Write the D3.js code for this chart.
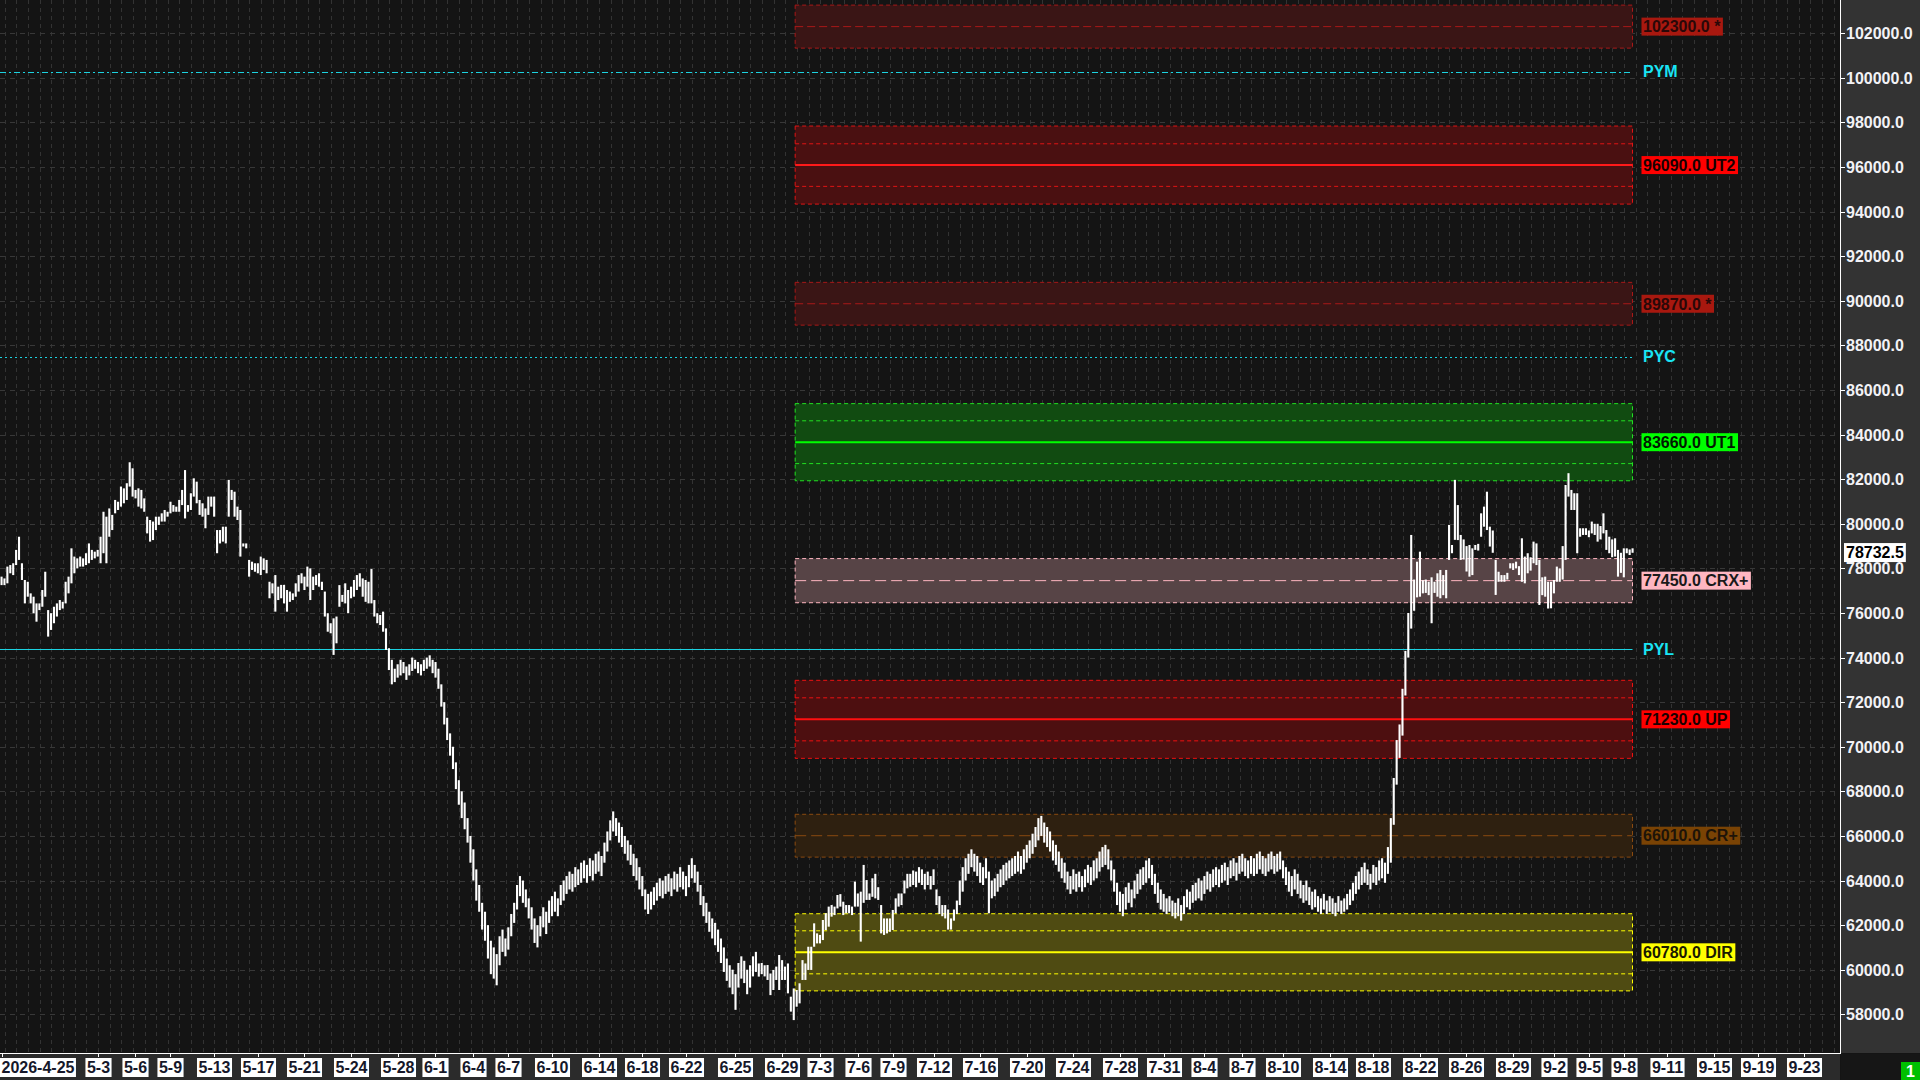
<!DOCTYPE html>
<html><head><meta charset="utf-8">
<script src="https://cdn.jsdelivr.net/npm/d3@7"></script>
<style>html,body{margin:0;padding:0;background:#141414;overflow:hidden}</style>
</head><body>
<svg id="chart" width="1920" height="1080"></svg>
<script>
// ---------------- DATA ----------------
const barHigh = [
77630,77550,78080,78150,78230,78830,79420,78230,77480,77400,
76880,76730,76430,76430,77030,77850,76130,75990,76280,76430,
76580,76500,77400,77630,78900,78530,78450,78530,78450,78680,
79120,78830,78750,78830,79420,80540,80320,80690,80400,81070,
80990,81670,81590,81820,82760,82490,81520,81590,81520,81140,
80320,80170,80100,80320,80320,80470,80620,80540,80990,80840,
80770,81070,81520,82410,80840,81370,82040,81890,81070,80920,
80690,81220,81220,81220,79720,79720,79870,79870,81970,81520,
81440,80770,80620,79120,79120,78380,78300,78230,78230,78530,
78450,78380,77400,77330,77700,77180,77260,77260,77030,76960,
76880,77330,77700,77780,77630,78080,78000,77630,77700,77780,
77400,76960,75990,75540,75760,75840,77250,76810,77330,77030,
77180,77480,77700,77780,77550,77480,77400,77970,76580,75990,
75910,76060,75310,74420,73900,73500,73700,73900,73800,73600,
73700,74000,73900,73800,73700,73900,74000,74100,73900,73800,
73500,72800,72000,71300,70600,70000,69300,68500,68000,67500,
66800,66000,65400,64500,63800,63000,62600,62000,61300,61000,
60700,61500,61800,61400,61900,62500,63000,63800,64200,64000,
63600,63200,62800,62300,62000,62400,62800,62600,63100,63300,
63500,63200,63800,64000,64200,64400,64300,64600,64500,64800,
64900,64700,65000,64900,65200,65300,65100,65700,66200,66700,
67100,66800,66600,66400,66000,65800,65600,65200,65000,64600,
64200,63600,63400,63500,63700,63900,64100,64000,64200,64300,
64100,64400,64300,64600,64400,64200,64700,65000,64700,64400,
63800,63300,63000,62600,62300,62100,61800,61400,61000,60500,
60200,60000,59800,60300,60600,60400,60000,60200,60600,60800,
60280,60300,60200,60210,59830,59990,60140,60660,60430,60140,
60280,58790,59160,59090,59390,60430,60280,61030,61030,62080,
61630,61560,62230,62530,62830,62900,62830,63350,63390,63050,
62900,62900,62830,63950,63420,63500,64700,64020,63420,64100,
64300,63700,62900,62300,62300,62300,62680,63200,63420,63420,
64000,64300,64300,64450,64400,64600,64500,64300,64400,64200,
64500,63600,63300,62900,62900,62700,62300,62700,63100,64000,
64600,65000,65200,65400,65200,65100,64800,64600,65000,64400,
64000,64100,64300,64500,64700,64800,64900,65000,65100,65300,
65100,65400,65600,65800,66100,66400,66800,66900,66600,66400,
66200,65800,65600,65300,65000,64800,64400,64200,64500,64300,
64400,64200,64500,64700,64600,64900,65000,65300,65500,65600,
65400,64900,64500,63900,63500,63400,63700,63900,63600,64000,
64300,64500,64600,64900,65000,64700,64300,63900,63600,63400,
63200,63300,63100,63000,63200,62900,63300,63600,63500,63800,
63900,64100,64000,64200,64400,64300,64500,64600,64500,64700,
64800,64600,64900,65000,64800,65100,65200,65000,64900,65100,
65000,65200,65300,65100,65000,65200,65300,65100,65200,65300,
64900,64600,64400,64200,64500,64300,64000,63800,64000,63700,
63500,63600,63300,63200,63400,63100,63300,63200,63000,63300,
63100,63200,63400,63600,63900,64200,64400,64600,64800,64500,
64300,64700,64600,64900,65000,
64800,65500,66800,68600,70300,71000,72600,74300,76000,79500,
77500,78300,78750,77470,77500,77400,77600,77400,77780,77930,
77700,77930,79950,79050,81970,80840,79500,79300,79000,79050,
78900,79050,79100,80470,80770,81440,79870,79700,78380,77850,
77700,77700,77800,78230,78230,78300,78100,79350,78530,78680,
78500,79200,79120,78380,77600,77630,77400,77400,77480,78080,
78000,79000,81740,82270,81520,81370,81370,79800,79800,79800,
79700,80100,80000,80000,79900,80470,79720,79420,79300,79350,
78830,78700,78900,78900,78850,78900
];
const barLow = [
77250,77250,77330,77780,77700,78150,78380,77480,76430,76730,
76430,75990,75610,76130,76280,76730,74940,75240,75540,75840,
76130,76200,76430,76880,77330,77780,78000,78080,78080,78150,
78230,78380,78450,78530,78230,78680,78230,79420,79720,80470,
80620,80770,80920,81070,81670,81220,81140,80770,80690,80540,
79570,79200,79270,79720,79950,80100,80100,80320,80470,80540,
80540,80540,80840,80240,80540,80620,81220,80920,80400,80320,
79800,80400,80770,80320,78680,79120,79200,79120,80320,81070,
80320,80170,78530,78980,78900,77630,77930,77850,77780,77700,
77930,77780,76660,76880,76060,76580,76660,76430,76060,76500,
76580,76730,76960,77330,77030,77180,76580,77030,77250,77180,
77030,75840,75160,75090,74120,74640,76280,76500,76430,75990,
76660,76730,77030,77180,76730,76500,76430,76430,75840,75540,
75460,75160,74340,73440,72800,72900,73100,73200,73300,73000,
73200,73400,73500,73300,73200,73400,73500,73600,73300,73100,
72600,71800,71000,70300,69600,69000,68100,67400,66800,66300,
65700,64800,64000,63100,62600,61800,61300,60500,59800,59600,
59300,60200,60800,60600,60900,61500,62100,62700,63300,63000,
62800,62300,61800,61200,61000,61500,61900,61600,62100,62400,
62600,62400,62900,63100,63400,63600,63500,63700,63800,63900,
64100,63900,64200,64000,64300,64400,64200,64800,65300,65800,
66200,66000,65700,65500,65200,64900,64700,64200,64000,63600,
63300,62700,62500,62700,62900,63100,63300,63200,63400,63500,
63300,63600,63500,63700,63600,63300,63700,64100,63900,63500,
62900,62400,62100,61700,61400,61100,60800,60300,59900,59500,
59200,58900,58200,59200,59600,59400,58900,59200,59700,59900,
59690,59800,59700,59540,58860,59090,59540,59090,59540,59540,
58940,58120,57740,58340,58490,59540,59540,59990,59990,61030,
61180,61180,61330,61780,61930,62380,62450,62750,62830,62450,
62530,62530,62450,62830,62830,61260,63000,63130,63130,63270,
63200,63130,61630,61560,61630,61700,61780,62530,62830,62900,
63420,63650,63720,63800,63700,63900,63800,63600,63800,63600,
63800,62900,62500,62400,62300,61800,61800,62200,62500,62900,
63500,64000,64300,64600,64400,64200,63900,63800,64100,62530,
63200,63300,63500,63700,63800,64000,64100,64200,64300,64400,
64300,64500,64800,65000,65200,65500,65800,66000,65700,65500,
65300,64900,64700,64400,64100,63900,63600,63400,63600,63500,
63700,63500,63700,63900,63800,64000,64100,64400,64600,64700,
64500,64000,63500,62900,62600,62400,62700,63000,62800,63200,
63400,63600,63800,63900,64100,63800,63400,63000,62700,62600,
62500,62600,62400,62300,62400,62200,62500,62800,62700,63000,
63100,63200,63100,63400,63600,63500,63700,63800,63700,63900,
64000,63800,64100,64200,64000,64300,64400,64200,64100,64300,
64200,64300,64500,64300,64200,64400,64500,64300,64400,64500,
64100,63800,63500,63300,63600,63400,63200,63000,63100,62900,
62700,62800,62600,62500,62700,62500,62600,62500,62400,62600,
62500,62600,62700,62900,63100,63400,63600,63800,63900,63800,
63600,63900,63800,64000,64100,
63900,64300,64800,66500,68300,69500,70500,72300,74000,75300,
76100,76700,76730,76880,76900,76800,75540,76900,76730,76660,
76800,76660,78380,78680,79280,79270,78380,78400,77860,77630,
77700,78830,78800,79420,79870,79720,78980,78700,76810,77400,
77400,77400,77500,78000,77930,78000,77700,77400,77330,77780,
77900,78230,78150,76360,76800,76730,76200,76210,76880,77400,
77400,77500,78380,81220,80620,80620,78680,79420,79500,79500,
79400,79570,79500,79200,79300,79570,78830,78680,78500,78530,
77630,77800,77600,78680,78600,78700
];
const tickLabels = ['2026-4-25','5-3','5-6','5-9','5-13','5-17','5-21','5-24','5-28','6-1','6-4','6-7','6-10','6-14','6-18','6-22','6-25','6-29','7-3','7-6','7-9','7-12','7-16','7-20','7-24','7-28','7-31','8-4','8-7','8-10','8-14','8-18','8-22','8-26','8-29','9-2','9-5','9-8','9-11','9-15','9-19','9-23'];
const tickIndex = [0,33,46,58,73,88,104,120,136,149,162,174,189,205,220,235,252,268,281,294,306,320,336,352,368,384,399,413,426,440,456,471,487,503,519,533,545,557,572,588,603,619];
const yTicks = [58000,60000,62000,64000,66000,68000,70000,72000,74000,76000,78000,80000,82000,84000,86000,88000,90000,92000,94000,96000,98000,100000,102000];
const zoneCenter = [102300,96090,89870,83660,77450,71230,66010,60780];
const zoneLabel = ['102300.0 *','96090.0 UT2','89870.0 *','83660.0 UT1','77450.0 CRX+','71230.0 UP','66010.0 CR+','60780.0 DIR'];
const zoneOuter = [965,1750,960,1730,990,1750,960,1730];
const zoneInner = [0,955,0,960,0,965,0,965];
const zoneStartIndex = 272.5;
const refLevels = [100280,87500,74380];
const refLabels = ['PYM','PYC','PYL'];
const lastPrice = 78732.5;
const lastPriceLabel = '78732.5';

// ---------------- STYLES ----------------
const zoneStyle = {
  '*':   {fill:'#3a1515', line:'#a81818', center:'dash', cColor:'#a81818', bg:'#a8180f', text:'#2a0808'},
  'UT2': {fill:'#4a1011', line:'#e01414', center:'solid', cColor:'#ff1a1a', bg:'#ff0000', text:'#1a0000'},
  'UT1': {fill:'#114b11', line:'#22e022', center:'solid', cColor:'#00ff00', bg:'#00ff00', text:'#001a00'},
  'CRX+':{fill:'#574446', line:'#ffb6c1', center:'longdash', cColor:'#ffb6c1', bg:'#ffb6c1', text:'#1a1a1a'},
  'UP':  {fill:'#4d0f10', line:'#ee1010', center:'solid', cColor:'#ff1010', bg:'#ff0000', text:'#1a0000'},
  'CR+': {fill:'#2e2010', line:'#8a4a10', center:'longdash', cColor:'#8a4a10', bg:'#7a4304', text:'#1e1408'},
  'DIR': {fill:'#4f4b12', line:'#ffff00', center:'solid', cColor:'#ffff00', bg:'#ffff00', text:'#1a1a00'}
};
const refStyle = [
  {color:'#1cd2e0', dash:'6,3,2,3'},
  {color:'#1cd2e0', dash:'2,3'},
  {color:'#1cd2e0', dash:null}
];
const FONT = "'Liberation Sans', Arial, sans-serif";

// ---------------- CHART ----------------
const plotR = 1840, plotB = 1053;
const svg = d3.select('#chart');
const x = d3.scaleLinear().domain([0, 631.24]).range([1.5, plotR]);
const y = d3.scaleLinear().domain([56264, 103494]).range([plotB, 0]);

svg.append('rect').attr('width',1920).attr('height',1080).attr('fill','#141414');
svg.append('rect').attr('x',plotR).attr('y',0).attr('width',1920-plotR).attr('height',plotB).attr('fill','#333333');
svg.append('rect').attr('x',0).attr('y',plotB).attr('width',plotR).attr('height',1080-plotB).attr('fill','#2b2b2b');

const plot = svg.append('g');
// grid
const gridIdx = d3.range(1.1, 632, 4);
plot.append('g').selectAll('line').data(gridIdx).join('line')
  .attr('x1',d=>Math.round(x(d))+0.5).attr('x2',d=>Math.round(x(d))+0.5)
  .attr('y1',0).attr('y2',plotB)
  .attr('stroke','#333').attr('stroke-width',1).attr('stroke-dasharray','4,4');
plot.append('g').selectAll('line').data(yTicks).join('line')
  .attr('x1',0).attr('x2',plotR)
  .attr('y1',d=>Math.round(y(d))+0.5).attr('y2',d=>Math.round(y(d))+0.5)
  .attr('stroke','#383838').attr('stroke-width',1).attr('stroke-dasharray','5,5');

// zones
const zx0 = x(zoneStartIndex), zx1 = x(barHigh.length-1);
const zones = zoneCenter.map((c,k)=>{
  const key = zoneLabel[k].split(' ')[1];
  return {c, label:zoneLabel[k], outer:zoneOuter[k], inner:zoneInner[k], st:zoneStyle[key]};
});
const zg = plot.append('g');
zones.forEach(z=>{
  const yt = y(z.c+z.outer), yb = y(z.c-z.outer);
  zg.append('rect').attr('x',zx0).attr('y',yt).attr('width',zx1-zx0).attr('height',yb-yt)
    .attr('fill',z.st.fill).attr('stroke',z.st.line).attr('stroke-width',1).attr('stroke-dasharray','4,3');
  if (z.inner>0) {
    [z.c+z.inner, z.c-z.inner].forEach(v=>{
      zg.append('line').attr('x1',zx0).attr('x2',zx1).attr('y1',y(v)).attr('y2',y(v))
        .attr('stroke',z.st.line).attr('stroke-width',1).attr('stroke-dasharray','4,3');
    });
  }
  const cl = zg.append('line').attr('x1',zx0).attr('x2',zx1).attr('y1',y(z.c)).attr('y2',y(z.c))
    .attr('stroke',z.st.cColor);
  if (z.st.center==='solid') cl.attr('stroke-width',2);
  else if (z.st.center==='dash') cl.attr('stroke-width',1).attr('stroke-dasharray','8,4');
  else cl.attr('stroke-width',1).attr('stroke-dasharray','11,5');
});

// reference lines
refLevels.forEach((v,k)=>{
  const l = plot.append('line').attr('x1',0).attr('x2',zx1)
    .attr('y1',Math.round(y(v))+0.5).attr('y2',Math.round(y(v))+0.5)
    .attr('stroke',refStyle[k].color).attr('stroke-width',1);
  if (refStyle[k].dash) l.attr('stroke-dasharray',refStyle[k].dash);
});

// price bars
plot.append('g').selectAll('rect').data(d3.range(barHigh.length)).join('rect')
  .attr('x',i=>x(i)-1).attr('width',2.1)
  .attr('y',i=>y(barHigh[i]))
  .attr('height',i=>Math.max(1.5, y(barLow[i])-y(barHigh[i])))
  .attr('fill','#ffffff');

// zone labels
const lg = svg.append('g').attr('font-family',FONT).attr('font-weight','bold').attr('font-size','16px');
zones.forEach(z=>{
  const yc = y(z.c);
  const r = lg.append('rect').attr('x',1641.5).attr('y',yc-9).attr('height',18).attr('fill',z.st.bg);
  const t = lg.append('text').attr('x',1643).attr('y',yc).attr('dy','0.36em').attr('fill',z.st.text).text(z.label);
  r.attr('width', t.node().getComputedTextLength()+4);
});
refLevels.forEach((v,k)=>{
  lg.append('text').attr('x',1643).attr('y',y(v)).attr('dy','0.36em').attr('fill','#19e4f4').text(refLabels[k]);
});

// right axis
svg.append('line').attr('x1',plotR+0.5).attr('x2',plotR+0.5).attr('y1',0).attr('y2',plotB+0.5).attr('stroke','#ffffff');
const ra = svg.append('g').attr('font-family',FONT).attr('font-weight','bold').attr('font-size','16px');
yTicks.forEach(v=>{
  const yy = Math.round(y(v))+0.5;
  ra.append('line').attr('x1',plotR).attr('x2',plotR+5).attr('y1',yy).attr('y2',yy).attr('stroke','#fff');
  ra.append('text').attr('x',plotR+6).attr('y',yy).attr('dy','0.36em').attr('fill','#f2f2f6').text(d3.format('.1f')(v));
});
{
  const yc = y(lastPrice);
  const r = ra.append('rect').attr('x',plotR+4).attr('y',yc-9).attr('height',19).attr('fill','#ffffff');
  const t = ra.append('text').attr('x',plotR+6).attr('y',yc).attr('dy','0.38em').attr('fill','#000').text(lastPriceLabel);
  r.attr('width', t.node().getComputedTextLength()+4);
}

// bottom axis
svg.append('line').attr('x1',0).attr('x2',plotR+1).attr('y1',plotB+0.5).attr('y2',plotB+0.5).attr('stroke','#ffffff');
const ba = svg.append('g').attr('font-family',FONT).attr('font-weight','bold').attr('font-size','16px');
tickLabels.forEach((lab,k)=>{
  const xx = Math.round(x(tickIndex[k]))+0.5;
  ba.append('line').attr('x1',xx).attr('x2',xx).attr('y1',plotB).attr('y2',plotB+4).attr('stroke','#fff');
  const t = ba.append('text').attr('y',1067.5).attr('dy','0.36em').attr('fill','#16182a').text(lab);
  const w = t.node().getComputedTextLength();
  let left = xx - w/2 - 1.5;
  if (left < 0) left = 0;
  t.attr('x', left+1.5);
  ba.insert('rect','text').attr('x',left).attr('y',1058).attr('width',w+3).attr('height',19).attr('fill','#ffffff');
});
ba.selectAll('rect').lower();

// corner
svg.append('rect').attr('x',plotR+1).attr('y',plotB+1).attr('width',1920-plotR-1).attr('height',1080-plotB-1).attr('fill','#161616');
svg.append('rect').attr('x',1901).attr('y',1062).attr('width',19).attr('height',18).attr('fill','#00c000');
svg.append('text').attr('x',1910.5).attr('y',1071).attr('dy','0.38em').attr('text-anchor','middle')
  .attr('font-family',FONT).attr('font-weight','bold').attr('font-size','16px').attr('fill','#fff').text('1');
</script>
</body></html>
